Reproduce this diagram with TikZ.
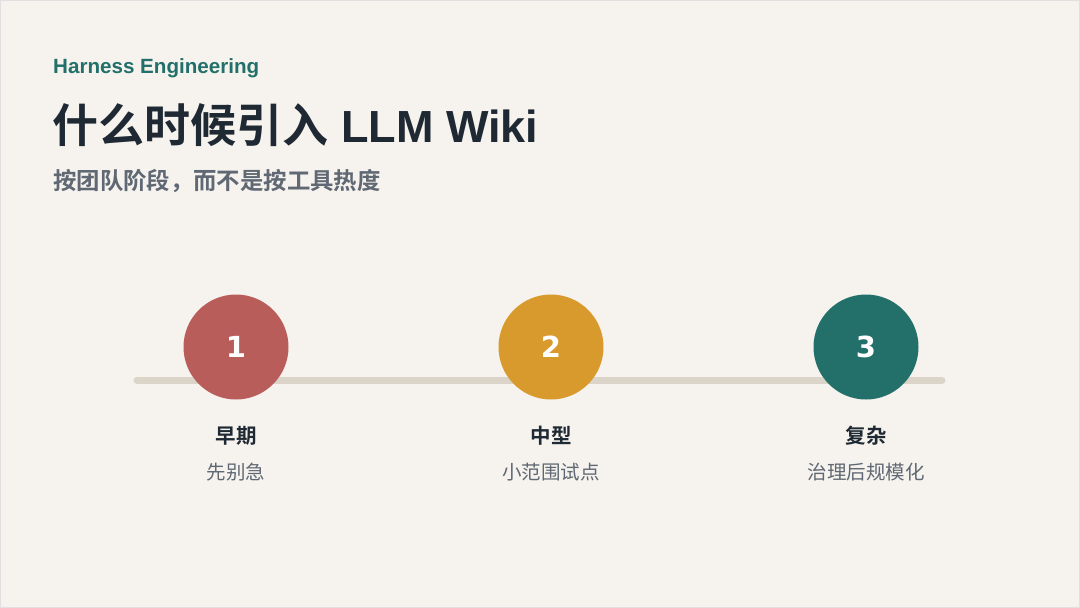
\documentclass[tikz,border=0pt]{standalone}
\usepackage{fontspec}
\setmainfont{Noto Sans CJK SC}[BoldFont={Noto Sans CJK SC Bold}]
\newfontfamily\latinfont{Liberation Sans}
\newfontfamily\digitfont{DejaVu Sans}
\definecolor{bg}{HTML}{F6F3EE}
\definecolor{teal}{HTML}{23706A}
\definecolor{ink}{HTML}{1F2933}
\definecolor{muted}{HTML}{5F6873}
\definecolor{track}{HTML}{DBD4C9}
\definecolor{cred}{HTML}{B95D5B}
\definecolor{cgold}{HTML}{D89A2C}
\tikzset{
  stagecircle/.style={circle, minimum size=105pt, inner sep=0pt, text=white, font=\digitfont\fontsize{29pt}{30pt}\selectfont\bfseries},
  stagetitle/.style={text=ink, font=\fontsize{20.5pt}{24pt}\selectfont\bfseries, anchor=base},
  stagedesc/.style={text=muted, font=\fontsize{19.5pt}{22pt}\selectfont, anchor=base},
}
\begin{document}
\begin{tikzpicture}[x=1pt,y=-1pt]
\useasboundingbox (0,0) rectangle (1080,608);
\fill[bg] (0,0) rectangle (1080,608);
\draw[black!12, line width=1pt] (0.5,0.5) rectangle (1079.5,607.5);
\node[anchor=base west, inner sep=0pt, text=teal, font=\latinfont\fontsize{20.6pt}{24pt}\selectfont\bfseries] (kicker) at (53,73) {Harness Engineering};
\node[anchor=base west, inner sep=0pt, text=ink, font=\fontsize{46pt}{52pt}\selectfont\bfseries] (title) at (52,142) {什么时候引入\hspace{13pt}{\latinfont\fontsize{45pt}{50pt}\selectfont LLM Wiki}};
\node[anchor=base west, inner sep=0pt, text=muted, font=\fontsize{23.4pt}{27pt}\selectfont\bfseries] (subtitle) at (53,189) {按团队阶段，而不是按工具热度};
\coordinate (tl) at (137,380);
\coordinate (tr) at (942,380);
\draw[track, line width=7pt, line cap=round] (tl) -- (tr);
\node[stagecircle, fill=cred] (c1) at (236,347) {1};
\node[stagecircle, fill=cgold] (c2) at (551,347) {2};
\node[stagecircle, fill=teal] (c3) at (866,347) {3};
\node[stagetitle] (t1) at (236,443) {早期};
\node[stagetitle] (t2) at (551,443) {中型};
\node[stagetitle] (t3) at (866,443) {复杂};
\node[stagedesc] (d1) at (236,479) {先别急};
\node[stagedesc] (d2) at (551,479) {小范围试点};
\node[stagedesc] (d3) at (866,479) {治理后规模化};
\end{tikzpicture}
\end{document}
